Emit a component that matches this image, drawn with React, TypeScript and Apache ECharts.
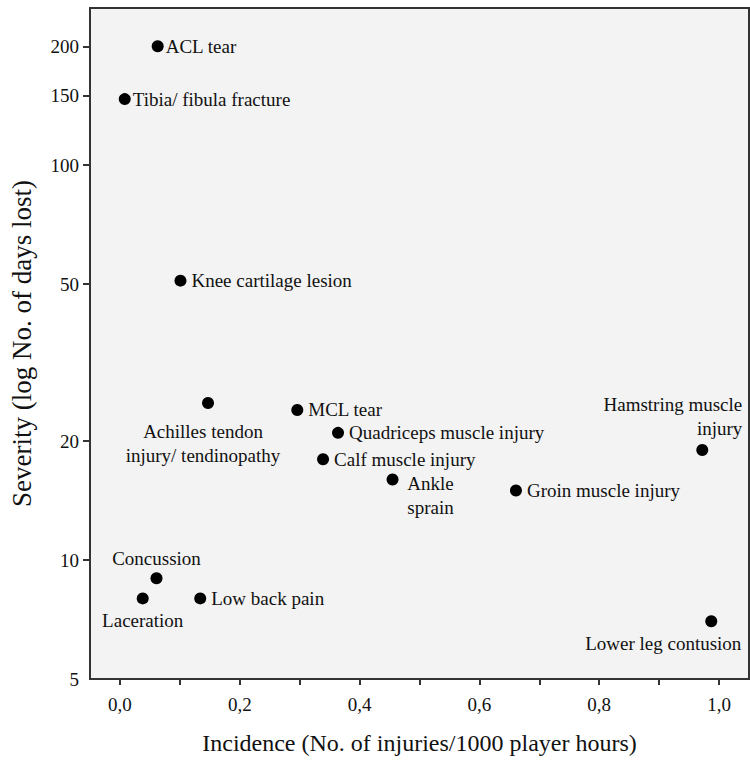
import React, { useEffect, useRef } from "react";
import * as echarts from "echarts";

const injuries = [
  "ACL tear",
  "Tibia/ fibula fracture",
  "Knee cartilage lesion",
  "Achilles tendon\ninjury/ tendinopathy",
  "MCL tear",
  "Quadriceps muscle injury",
  "Calf muscle injury",
  "Ankle\nsprain",
  "Groin muscle injury",
  "Hamstring muscle\ninjury",
  "Lower leg contusion",
  "Concussion",
  "Laceration",
  "Low back pain",
];
const incidence = [0.063, 0.008, 0.101, 0.147, 0.296, 0.364, 0.339, 0.455, 0.661, 0.972, 0.987, 0.061, 0.038, 0.134];
const severity = [200, 147, 51, 25, 24, 21, 18, 16, 15, 19, 7, 9, 8, 8];

const xLabelValues = [0, 0.2, 0.4, 0.6, 0.8, 1.0];
const xTickValues = [0, 0.1, 0.2, 0.3, 0.4, 0.5, 0.6, 0.7, 0.8, 0.9, 1.0];
const yLabelValues = [5, 10, 20, 50, 100, 150, 200];
const yTickValues = [10, 20, 50, 100, 150, 200];

const FONT = "'Liberation Serif', 'Times New Roman', serif";
const TXT = "#111111";

// label layout per injury (position styles, not data)
const labelLayout: Record<string, any> = {
  "ACL tear": { position: "right", distance: 2 },
  "Tibia/ fibula fracture": { position: "right", distance: 2 },
  "Achilles tendon\ninjury/ tendinopathy": { position: "inside", offset: [-5, 41], align: "center" },
  "Ankle\nsprain": { position: "inside", offset: [38, 16], align: "center" },
  "Hamstring muscle\ninjury": { position: "inside", offset: [40, -34], align: "right" },
  "Lower leg contusion": { position: "inside", offset: [-48, 22], align: "center" },
  "Concussion": { position: "inside", offset: [0, -20], align: "center" },
  "Laceration": { position: "inside", offset: [0, 22], align: "center" },
};

export default function App() {
  const ref = useRef<HTMLDivElement>(null);
  useEffect(() => {
    if (!ref.current) return;
    const chart = echarts.init(ref.current, null, { renderer: "svg" });
    const data = injuries.map((name, i) => ({
      name,
      value: [incidence[i], severity[i]],
      label: {
        show: true,
        formatter: name,
        color: TXT,
        fontFamily: FONT,
        fontSize: 19,
        lineHeight: 24,
        position: "right",
        distance: 5,
        ...(labelLayout[name] || {}),
      },
    }));
    chart.setOption({
      animation: false,
      backgroundColor: "#ffffff",
      grid: {
        left: 89,
        right: 1,
        top: 8,
        bottom: 83,
        show: true,
        backgroundColor: "#f3f3f3",
        borderColor: "#333333",
        borderWidth: 2,
      },
      xAxis: {
        type: "value",
        min: -0.05,
        max: 1.05,
        name: "Incidence (No. of injuries/1000 player hours)",
        nameLocation: "middle",
        nameGap: 52,
        nameTextStyle: { fontFamily: FONT, fontSize: 24, color: TXT },
        axisLine: { show: true, onZero: false, lineStyle: { color: "#333333", width: 2 } },
        axisTick: { show: true, length: 6, customValues: xTickValues, lineStyle: { color: "#333333", width: 2 } },
        axisLabel: {
          customValues: xLabelValues,
          margin: 16,
          fontFamily: FONT,
          fontSize: 19,
          color: TXT,
          formatter: (v: number) => v.toFixed(1).replace(".", ","),
        },
        splitLine: { show: false },
      },
      yAxis: {
        type: "log",
        logBase: 10,
        min: 5,
        max: 250,
        name: "Severity (log No. of days lost)",
        nameLocation: "middle",
        nameGap: 55,
        nameTextStyle: { fontFamily: FONT, fontSize: 27, color: TXT },
        axisLine: { show: true, onZero: false, lineStyle: { color: "#333333", width: 2 } },
        axisTick: { show: true, length: 7, customValues: yTickValues, lineStyle: { color: "#333333", width: 2 } },
        axisLabel: {
          customValues: yLabelValues,
          margin: 11,
          fontFamily: FONT,
          fontSize: 19,
          color: TXT,
          formatter: (v: number) => String(Math.round(v)),
        },
        splitLine: { show: false },
        minorTick: { show: false },
      },
      series: [
        {
          type: "scatter",
          symbol: "circle",
          symbolSize: 12,
          itemStyle: { color: "#000000", opacity: 1 },
          data,
        },
      ],
    });
    return () => chart.dispose();
  }, []);
  return (
    <div
      ref={ref}
      style={{ position: "fixed", left: 0, top: 0, width: 750, height: 762 }}
    />
  );
}
